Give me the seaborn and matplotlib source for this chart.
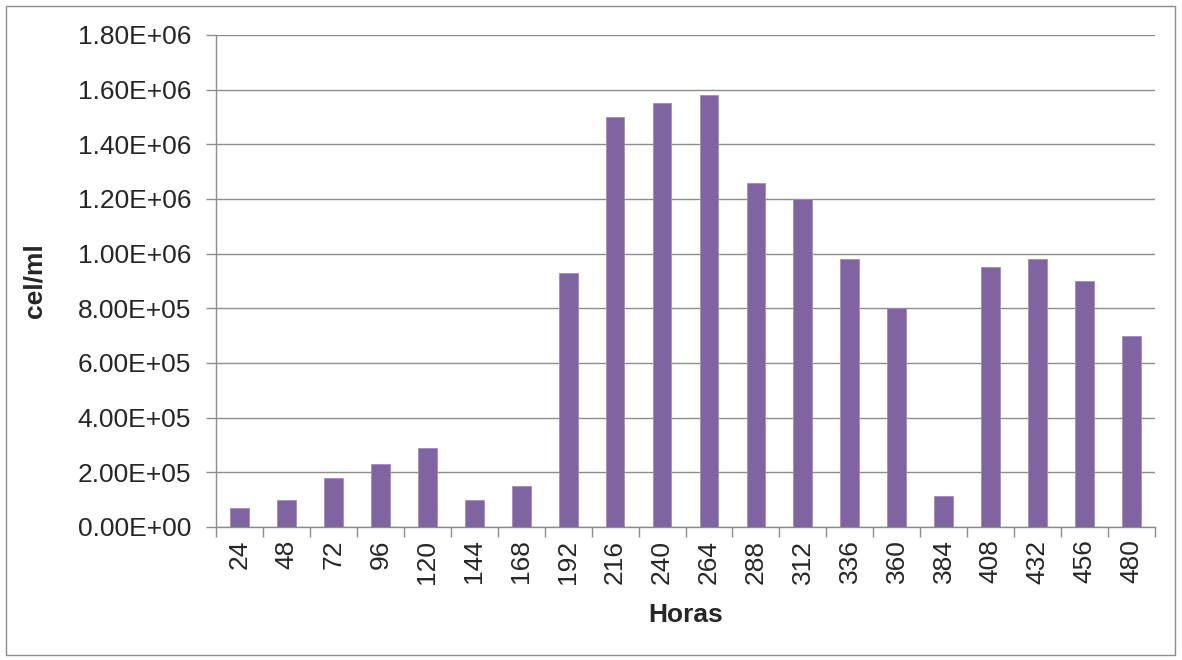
import numpy as np
import pandas as pd
import matplotlib
matplotlib.use("Agg")
import matplotlib.pyplot as plt
import matplotlib.ticker as mticker
from matplotlib.patches import Rectangle
import seaborn as sns

# data
horas = [24, 48, 72, 96, 120, 144, 168, 192, 216, 240,
         264, 288, 312, 336, 360, 384, 408, 432, 456, 480]
cel_ml = [7.0e4, 1.0e5, 1.8e5, 2.3e5, 2.9e5, 1.0e5, 1.5e5, 9.3e5, 1.5e6, 1.55e6,
          1.58e6, 1.26e6, 1.2e6, 9.8e5, 8.0e5, 1.15e5, 9.5e5, 9.8e5, 9.0e5, 7.0e5]
yticks = np.arange(0, 1.8e6 + 1, 2e5)

sns.set_style("white")
plt.rcParams['font.family'] = ['Liberation Sans', 'DejaVu Sans']

df = pd.DataFrame({"Horas": [str(h) for h in horas], "cel/ml": cel_ml})

fig = plt.figure(figsize=(11.82, 6.6), dpi=100)
ax = fig.add_axes([216/1182, 1 - 527/660, (1155-216)/1182, (527-35)/660])

grid_c = "#8c8c8c"
sns.barplot(data=df, x="Horas", y="cel/ml", color="#8064A2", width=0.4,
            saturation=1, edgecolor="#a08cc0", linewidth=0.6, ax=ax, zorder=3)

ax.set_ylim(0, 1.8e6)
ax.set_xlim(-0.5, len(horas) - 0.5)
ax.set_yticks(yticks)
ax.yaxis.set_major_formatter(mticker.FuncFormatter(lambda v, p: f"{v:.2E}"))
ax.grid(axis="y", color=grid_c, linewidth=1.0, zorder=0)
ax.set_axisbelow(True)

for s in ["top", "right"]:
    ax.spines[s].set_visible(False)
for s in ["left", "bottom"]:
    ax.spines[s].set_color(grid_c)
    ax.spines[s].set_linewidth(1.0)

ax.tick_params(axis="y", which="major", length=7, width=1.0, color=grid_c,
               labelsize=19, pad=11, left=True)
ax.tick_params(axis="x", which="major", length=0, labelsize=19, pad=9,
               labelrotation=90, bottom=True)
ax.set_xticks(np.arange(-0.5, len(horas), 1), minor=True)
ax.tick_params(axis="x", which="minor", length=7, width=1.0, color=grid_c, bottom=True)

ax.set_xlabel("Horas", fontsize=19, fontweight="bold", labelpad=14)
ax.set_ylabel("cel/ml", fontsize=19, fontweight="bold", labelpad=22)

fig.patches.append(Rectangle((6/1182, 1 - 655/660), (1175-6)/1182, (655-6)/660,
                             transform=fig.transFigure, fill=False,
                             edgecolor="#8c8c8c", linewidth=1.0))

fig.savefig("out.png", dpi=100)
